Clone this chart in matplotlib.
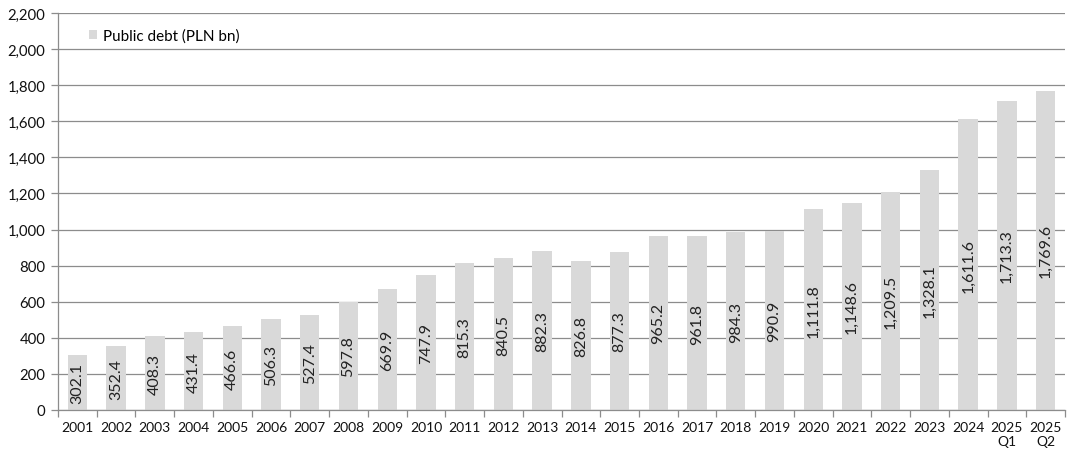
import matplotlib
matplotlib.use("Agg")
import matplotlib.pyplot as plt
import numpy as np

categories = ["2001", "2002", "2003", "2004", "2005", "2006", "2007", "2008", "2009", "2010",
              "2011", "2012", "2013", "2014", "2015", "2016", "2017", "2018", "2019", "2020",
              "2021", "2022", "2023", "2024", "2025\nQ1", "2025\nQ2"]
debt = [302.1, 352.4, 408.3, 431.4, 466.6, 506.3, 527.4, 597.8, 669.9, 747.9,
        815.3, 840.5, 882.3, 826.8, 877.3, 965.2, 961.8, 984.3, 990.9, 1111.8,
        1148.6, 1209.5, 1328.1, 1611.6, 1713.3, 1769.6]
series_name = "Public debt (PLN bn)"

plt.rcParams['font.family'] = ['Lato', 'DejaVu Sans']

fig = plt.figure(figsize=(10.7, 4.6), dpi=100)
ax = fig.add_axes([58/1070, 1 - 411/460, (1065 - 58)/1070, (411 - 14)/460])

bar_color = "#d9d9d9"
grid_color = "#8c8c8c"
x = np.arange(len(categories))
bars = ax.bar(x, debt, width=0.5, color=bar_color, zorder=2, label=series_name)

ax.bar_label(bars, labels=[f"{v:,.1f}" for v in debt], label_type="center",
             rotation=90, fontsize=11.5, color="#222222", zorder=3)

ax.set_xlim(-0.5, len(categories) - 0.5)
ax.set_ylim(0, 2200)
ax.set_yticks(np.arange(0, 2201, 200))
ax.set_yticklabels([f"{t:,}" for t in range(0, 2201, 200)], fontsize=10.7)
ax.yaxis.grid(True, color=grid_color, linewidth=0.9, zorder=1)
ax.set_xticks(x)
ax.set_xticklabels(categories, fontsize=10)
ax.tick_params(axis="x", which="major", length=0, pad=8)
ax.set_xticks(np.arange(-0.5, len(categories), 1), minor=True)
ax.tick_params(axis="x", which="minor", length=5, color=grid_color, width=0.9)
ax.tick_params(axis="y", length=5, color=grid_color, width=0.9, pad=4, labelcolor="#111111")
ax.tick_params(axis="x", labelcolor="#111111")

for s in ["top", "right"]:
    ax.spines[s].set_visible(False)
ax.spines["left"].set_color(grid_color)
ax.spines["bottom"].set_color(grid_color)
ax.spines["left"].set_linewidth(0.9)
ax.spines["bottom"].set_linewidth(0.9)

leg = ax.legend(loc="upper left", bbox_to_anchor=(0.017, 0.995), frameon=False,
                fontsize=11, handlelength=0.55, handleheight=0.55, handletextpad=0.35)

fig.savefig("out.png", dpi=100)
